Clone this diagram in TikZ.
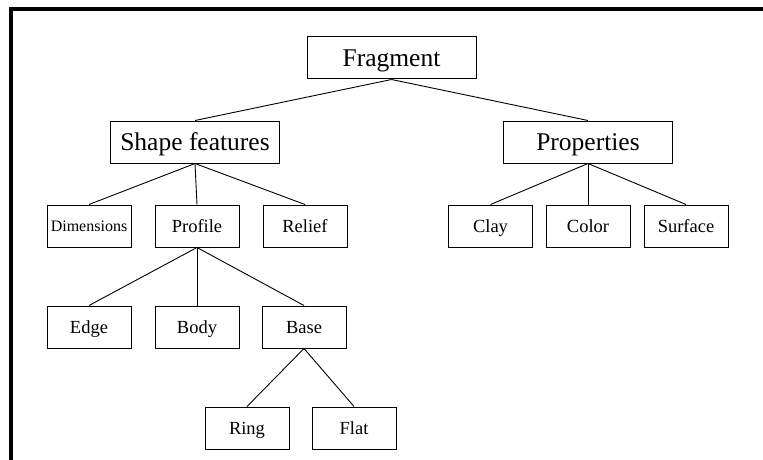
\documentclass[tikz,border=0pt]{standalone}
\usepackage{fontspec}
\setmainfont{Liberation Serif}
\begin{document}
\begin{tikzpicture}[x=1pt,y=-1pt,
  bigbox/.style={draw,line width=1pt,minimum width=169pt,minimum height=42pt,inner sep=0pt,text height=16.5pt,text depth=0pt,font=\fontsize{25.5}{29}\selectfont},
  smallbox/.style={draw,line width=1pt,minimum width=84pt,minimum height=42pt,inner sep=0pt,text height=12pt,text depth=0pt,font=\fontsize{18.5}{21}\selectfont},
  link/.style={line width=0.9pt}]
\useasboundingbox (0,0) rectangle (763,460);
\draw[line width=3.6pt] (11,470) -- (11,9.2) -- (775,9.2);
% level 0
\node[bigbox] (frag) at (391.5,58) {Fragment};
% level 1
\node[bigbox] (shape) at (195,142) {Shape features};
\node[bigbox] (prop) at (588,142) {Properties};
% level 2
\node[smallbox,text height=10.4pt,font=\fontsize{16}{18}\selectfont] (dim) at (89,226) {Dimensions};
\node[smallbox] (profile) at (197,226) {Profile};
\node[smallbox] (relief) at (305,226) {Relief};
\node[smallbox] (clay) at (490.5,226) {Clay};
\node[smallbox] (color) at (588,226) {Color};
\node[smallbox] (surface) at (686,226) {Surface};
% level 3
\node[smallbox] (edge) at (89,327) {Edge};
\node[smallbox] (body) at (197,327) {Body};
\node[smallbox] (base) at (304,327) {Base};
% level 4
\node[smallbox] (ring) at (247,428) {Ring};
\node[smallbox] (flat) at (354,428) {Flat};
% connectors
\draw[link] (frag.south) -- (shape.north);
\draw[link] (frag.south) -- (prop.north);
\draw[link] (shape.south) -- (dim.north);
\draw[link] (shape.south) -- (profile.north);
\draw[link] (shape.south) -- (relief.north);
\draw[link] (prop.south) -- (clay.north);
\draw[link] (prop.south) -- (color.north);
\draw[link] (prop.south) -- (surface.north);
\draw[link] (profile.south) -- (edge.north);
\draw[link] (profile.south) -- (body.north);
\draw[link] (profile.south) -- (base.north);
\draw[link] (base.south) -- (ring.north);
\draw[link] (base.south) -- (flat.north);
\end{tikzpicture}
\end{document}
